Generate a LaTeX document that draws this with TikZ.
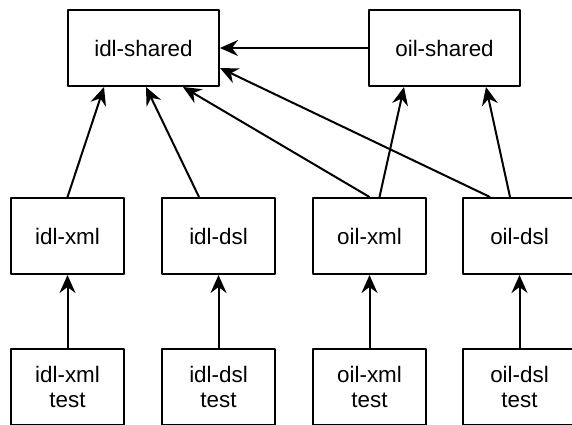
\documentclass[tikz,border=0pt]{standalone}
\usepackage{fontspec}
\setmainfont{Liberation Sans}
\usetikzlibrary{arrows.meta}
\begin{document}
\begin{tikzpicture}[x=0.5pt, y=-0.5pt, line join=round, >={Stealth[length=9pt,width=8pt,inset=3pt]},
	box/.style={draw, line width=1pt, minimum width=56.5pt, minimum height=38pt, inner sep=0pt, align=center, font=\fontsize{11.2}{12.5}\selectfont},
	wide/.style={box, minimum width=75.5pt},
	link/.style={->, line width=1pt}]
		\useasboundingbox (0,0) rectangle (572,424);
		\path
		(143.5,48) node[wide] (idlshared) {idl-shared}
		(444.5,48) node[wide] (oilshared) {oil-shared}
		(67.5,236) node[box] (idlxml) {idl-xml}
		(218.5,236) node[box] (idldsl) {idl-dsl}
		(369.5,236) node[box] (oilxml) {oil-xml}
		(519.5,236) node[box] (oildsl) {oil-dsl}
		(67.5,387) node[box] (tidlxml) {idl-xml\\test}
		(218.5,387) node[box] (tidldsl) {idl-dsl\\test}
		(369.5,387) node[box] (toilxml) {oil-xml\\test}
		(519.5,387) node[box] (toildsl) {oil-dsl\\test};
		\draw[link] (oilshared) -- (idlshared);
		\draw[link] (idlxml.north) -- ([xshift=-19.75pt]idlshared.south);
		\draw[link] ([xshift=-9.75pt]idldsl.north) -- ([xshift=1.25pt]idlshared.south);
		\draw[link] (oilxml.north) -- ([xshift=19.75pt]idlshared.south);
		\draw[link] ([xshift=5pt]oilxml.north) -- ([xshift=-20.25pt]oilshared.south);
		\draw[link] ([xshift=-14.75pt]oildsl.north) -- ([yshift=-10pt]idlshared.east);
		\draw[link] ([xshift=-4.75pt]oildsl.north) -- ([xshift=20.75pt]oilshared.south);
		\foreach \m in {idlxml, idldsl, oilxml, oildsl}
		\draw[link] (t\m.north) -- (\m.south);
	\end{tikzpicture}
\end{document}
